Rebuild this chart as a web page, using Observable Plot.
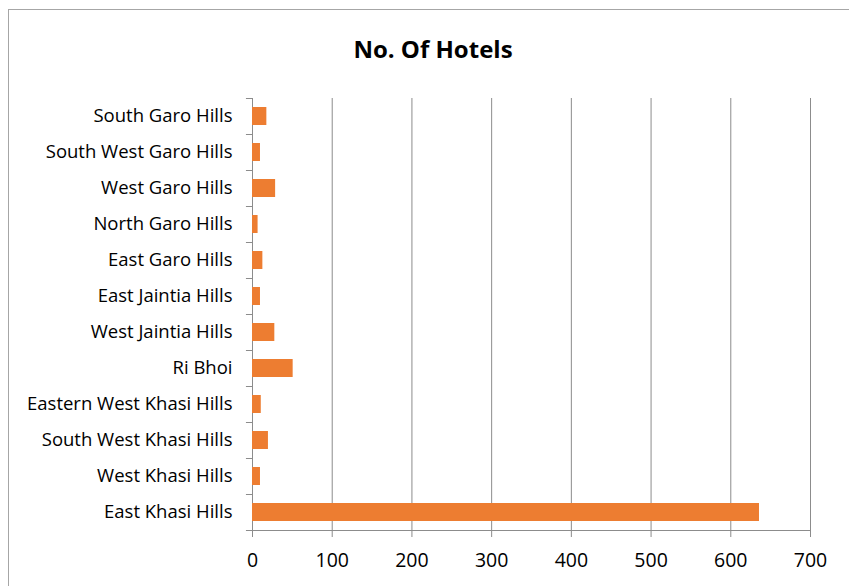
<!DOCTYPE html>
<html><head><meta charset="utf-8">
<script src="https://cdn.jsdelivr.net/npm/d3@7"></script>
<script src="https://cdn.jsdelivr.net/npm/@observablehq/plot@0.6"></script>
<style>
body{margin:0;background:#fff;}
#wrap{position:relative;width:849px;height:586px;overflow:hidden;font-family:"Open Sans",sans-serif;}
#frame{position:absolute;left:8px;top:9px;width:900px;height:700px;border-left:1px solid #a6a6a6;border-top:1px solid #a6a6a6;pointer-events:none;}
#title{position:absolute;left:0;width:866px;top:36.5px;text-align:center;font:bold 24px/24px "Open Sans",sans-serif;color:#000;}
</style></head><body><div id="wrap"></div>
<script>
const districts = ["South Garo Hills","South West Garo Hills","West Garo Hills","North Garo Hills","East Garo Hills","East Jaintia Hills","West Jaintia Hills","Ri Bhoi","Eastern West Khasi Hills","South West Khasi Hills","West Khasi Hills","East Khasi Hills"];
const hotels = [18,10,29,7,13,10,28,51,11,20,10,636];
const xTicks = [0,100,200,300,400,500,600,700];
const titleText = "No. Of Hotels";

const data = districts.map((d,i)=>({district:d, hotels:hotels[i]}));
const gray = "#8c8c8c";
const chart = Plot.plot({
  width:849, height:586,
  marginLeft:252, marginRight:39, marginTop:98, marginBottom:56,
  style:{fontFamily:"'Open Sans', sans-serif", background:"transparent"},
  x:{domain:[0,700]},
  y:{domain:districts, paddingInner:0.5, paddingOuter:0.25},
  marks:[
    Plot.gridX(xTicks,{stroke:gray, strokeOpacity:1}),
    Plot.barX(data,{x:"hotels", y:"district", fill:"#ED7D31"}),
    Plot.ruleY(districts,{y:d=>d, x1:-7.6, x2:0, dy:-18, stroke:gray}),
    Plot.ruleY([districts[districts.length-1]],{y:d=>d, x1:-7.6, x2:700, dy:18, stroke:gray}),
    Plot.axisX(xTicks,{tickSize:7, tickPadding:16, fontSize:19.5, stroke:gray, fill:"#000", label:null}),
    Plot.axisY({tickSize:0, tickPadding:20, fontSize:18.5, fill:"#000", label:null})
  ]
});
const wrap = document.getElementById("wrap");
wrap.appendChild(chart);
const frame = document.createElement("div"); frame.id="frame"; wrap.appendChild(frame);
const t = document.createElement("div"); t.id="title"; t.textContent=titleText; wrap.appendChild(t);
</script></body></html>
